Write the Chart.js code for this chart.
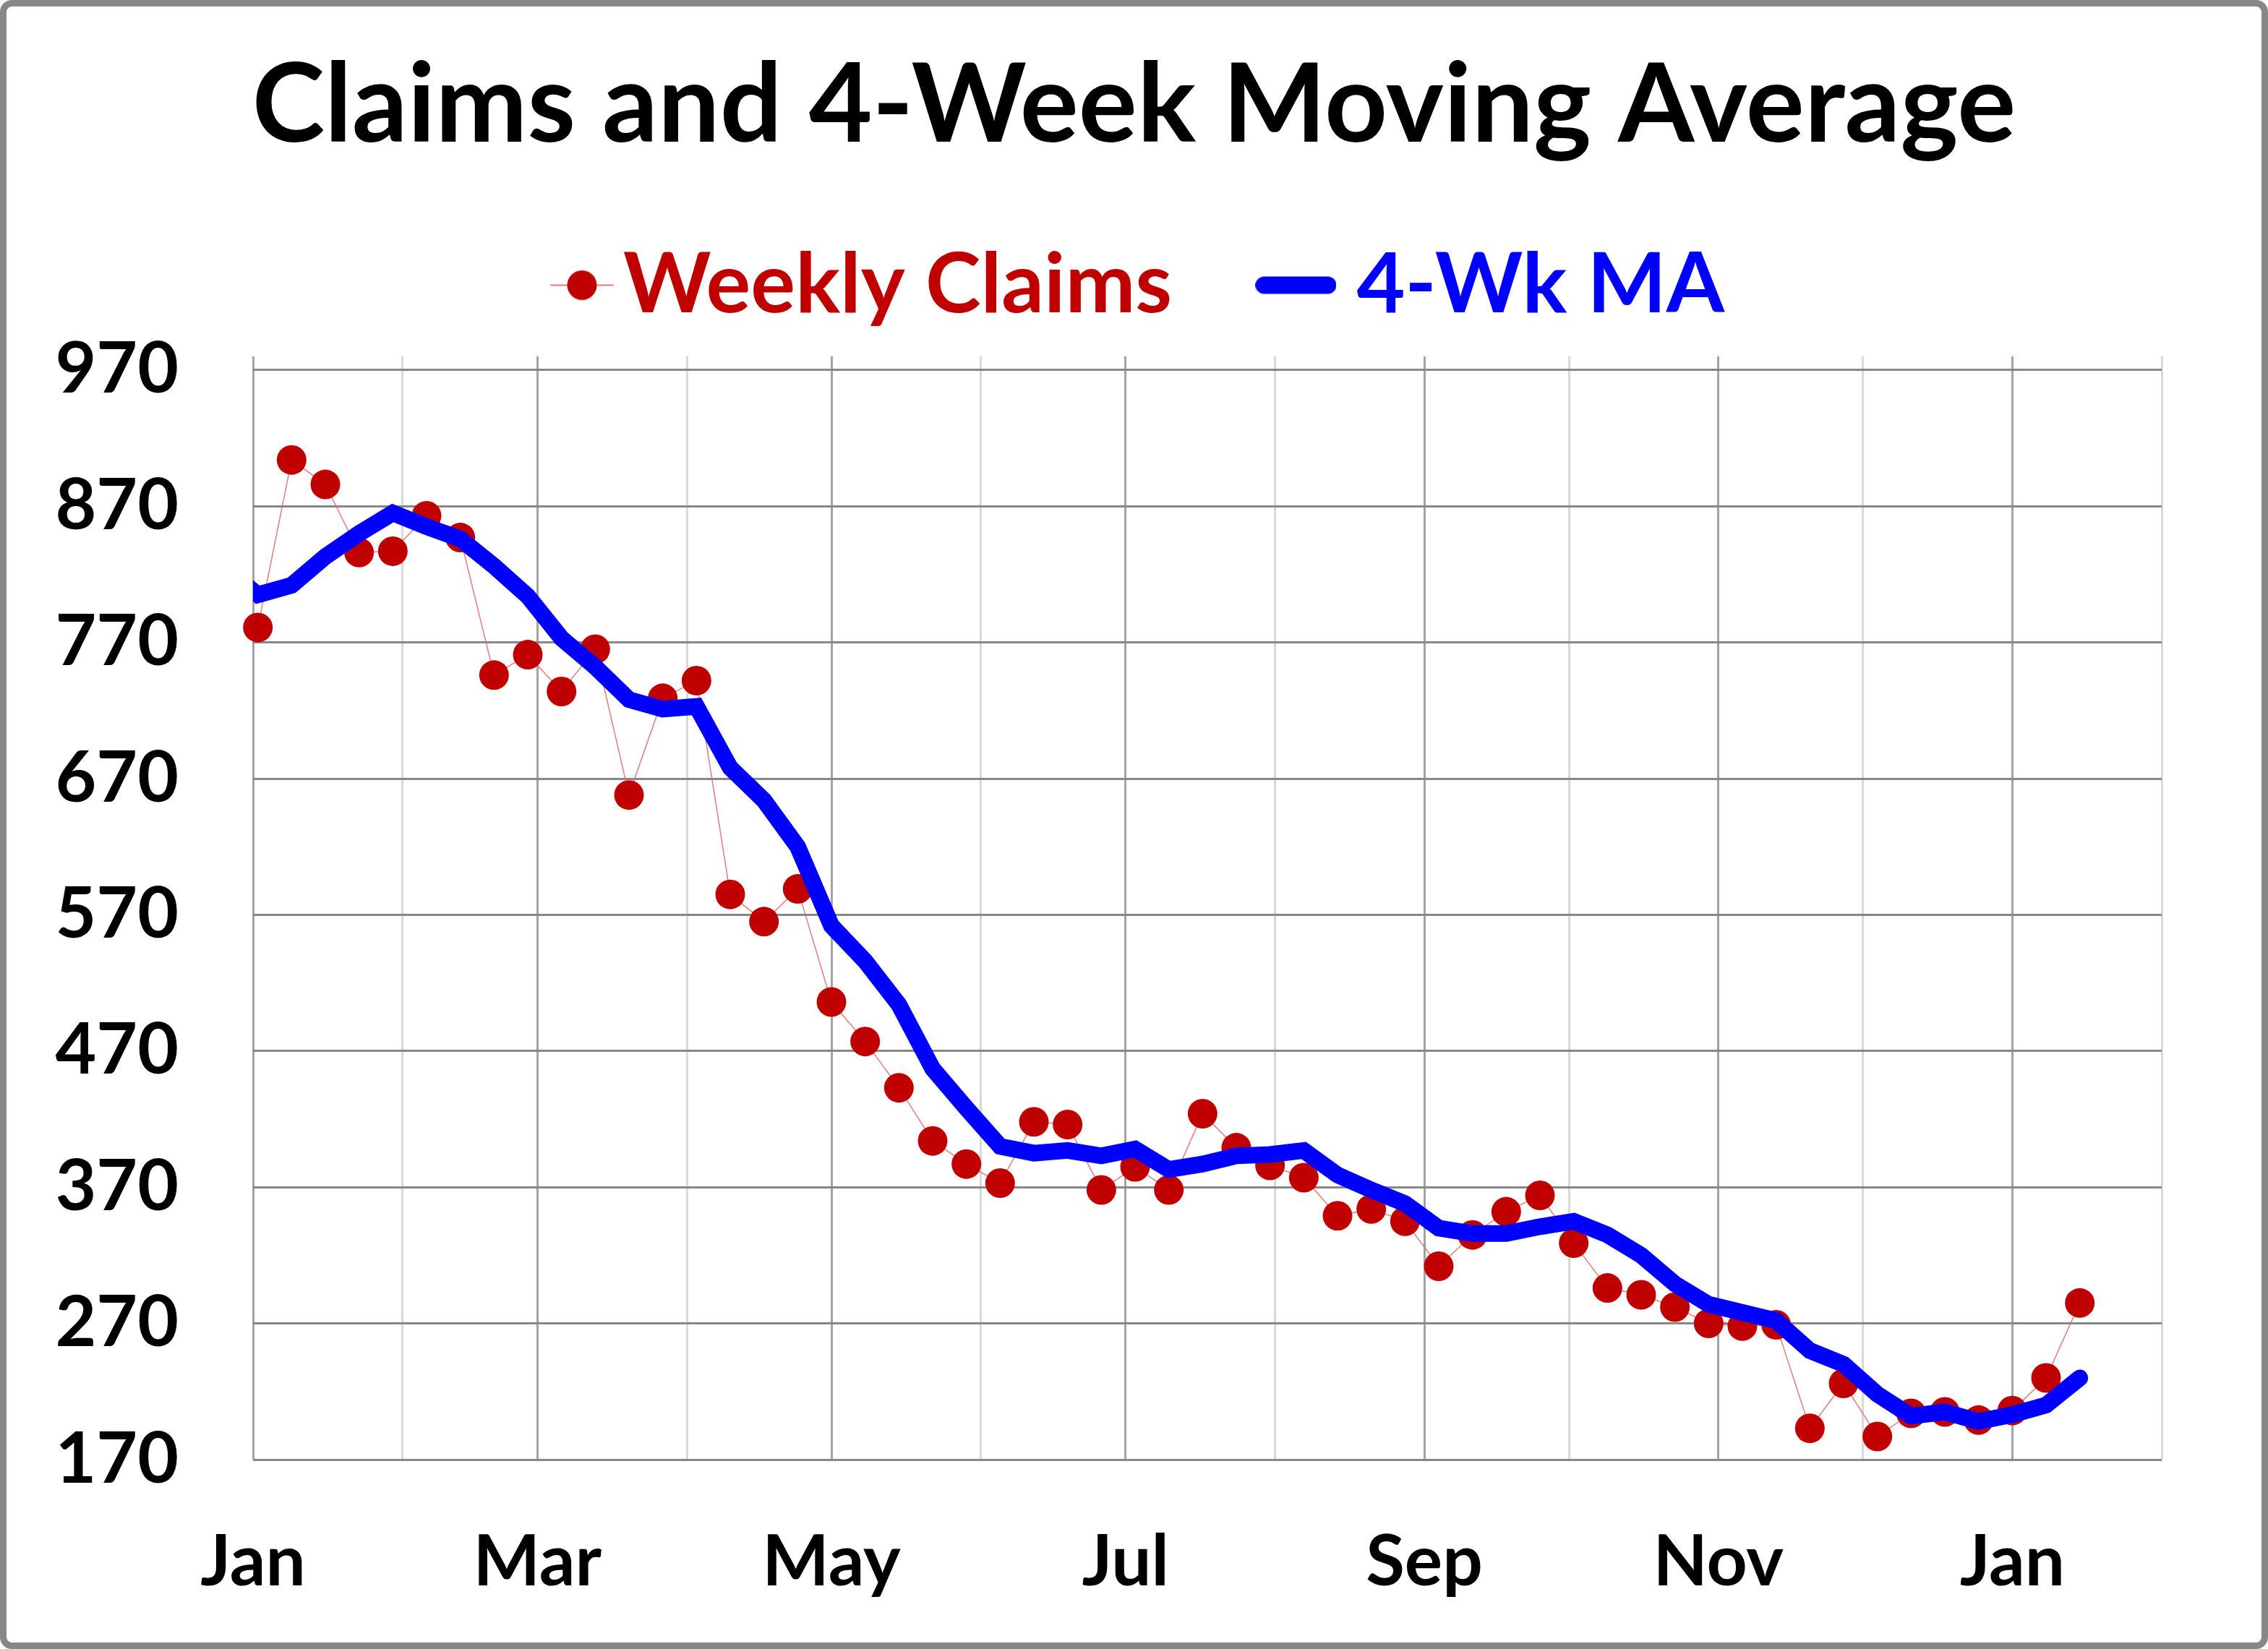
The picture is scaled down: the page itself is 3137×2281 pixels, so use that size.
<!DOCTYPE html>
<html>
<head>
<meta charset="utf-8">
<script src="https://cdn.jsdelivr.net/npm/chart.js@4.4.1/dist/chart.umd.min.js"></script>
<style>
html,body{margin:0;padding:0;background:#fff;overflow:hidden}
canvas{display:block}
</style>
</head>
<body>
<canvas id="c" width="3137" height="2281" style="width:3137px;height:2281px"></canvas>
<script>
// ---------------- DATA ----------------
const chartTitle = 'Claims and 4-Week Moving Average';
const seriesNames = ['Weekly Claims', '4-Wk MA'];

const weekEnding = [
  '2021-01-02','2021-01-09','2021-01-16','2021-01-23','2021-01-30',
  '2021-02-06','2021-02-13','2021-02-20','2021-02-27',
  '2021-03-06','2021-03-13','2021-03-20','2021-03-27',
  '2021-04-03','2021-04-10','2021-04-17','2021-04-24',
  '2021-05-01','2021-05-08','2021-05-15','2021-05-22','2021-05-29',
  '2021-06-05','2021-06-12','2021-06-19','2021-06-26',
  '2021-07-03','2021-07-10','2021-07-17','2021-07-24','2021-07-31',
  '2021-08-07','2021-08-14','2021-08-21','2021-08-28',
  '2021-09-04','2021-09-11','2021-09-18','2021-09-25',
  '2021-10-02','2021-10-09','2021-10-16','2021-10-23','2021-10-30',
  '2021-11-06','2021-11-13','2021-11-20','2021-11-27',
  '2021-12-04','2021-12-11','2021-12-18','2021-12-25',
  '2022-01-01','2022-01-08','2022-01-15'
];

const weeklyClaims = [
  781, 904, 886, 836, 837, 863, 847, 746, 761, 734,
  765, 658, 729, 742, 585, 565, 589, 506, 477, 443,
  404, 387, 373, 418, 416, 368, 385, 368, 424, 399,
  386, 377, 349, 354, 345, 312, 335, 352, 364, 329,
  296, 291, 282, 270, 268, 269, 193, 226, 187, 204,
  205, 199, 206, 230, 285
];

// the moving average line also has the prior week (cut off at the left edge)
const maWeekEnding = ['2020-12-26'].concat(weekEnding);
const movingAverage = [
  825,
  805, 812, 833, 850, 865, 855, 846, 826, 804, 773,
  752, 728, 721, 723, 678, 654, 620, 562, 536, 504,
  457, 428, 400, 395, 397, 393, 398, 383, 387, 393,
  394, 397, 379, 368, 358, 340, 336, 336, 341, 345,
  335, 320, 299, 284, 278, 272, 250, 240, 218, 202,
  205, 198, 203, 210, 230
];

const monthStarts = [
  '2021-01-01','2021-02-01','2021-03-01','2021-04-01','2021-05-01','2021-06-01',
  '2021-07-01','2021-08-01','2021-09-01','2021-10-01','2021-11-01','2021-12-01',
  '2022-01-01','2022-02-01'
];
const monthLabels = ['Jan','','Mar','','May','','Jul','','Sep','','Nov','','Jan',''];

const yTicks = [170, 270, 370, 470, 570, 670, 770, 870, 970];
const yMin = 170, yMax = 980;

// ---------------- HELPERS ----------------
const origin = Date.parse('2021-01-01T00:00:00Z');
const dayOf = d => (Date.parse(d + 'T00:00:00Z') - origin) / 864e5;
const monthDays = monthStarts.map(dayOf);

const FONT = 'Lato';
const mctx = document.createElement('canvas').getContext('2d');
function widthAt(text, size) { mctx.font = 'bold ' + size + 'px ' + FONT; return mctx.measureText(text).width; }

// Canvas geometry (px)
const W_CANVAS = 3137, H_CANVAS = 2281;
const plotLeft = 350, plotRight = 2990, plotTop = 493, plotBottom = 2019;
const CAP = 0.03; // cap centre sits this fraction of the size above the 'middle' baseline

// Font sizes fitted to the reference text widths
const T = 100 * 2440 / widthAt(chartTitle, 100);
const F = 100 * 1268 / (widthAt(seriesNames[0], 100) + widthAt(seriesNames[1], 100));
const TICK = 98;

// Legend geometry
const boxW = Math.max(4, 168 - F);           // blue marker centre -> text = 84
const w1 = widthAt(seriesNames[0], F);
const legendPad = (1803.5 - boxW / 2) - (873 + w1);
const legendTop = (391 + CAP * F) - F / 2 - legendPad;
const titleMid = 142.5 + CAP * T;
const titleLH = Math.max(0.05, 2 * (legendTop - titleMid) / T);
const titlePadTop = titleMid - titleLH * T / 2;
const legendBottom = legendTop + F + legendPad + 10;
const spacer = Math.max(1, plotTop - legendBottom);

// Legend marker images
function redMarker() {
  // visible marker is shifted 27px right of the image centre (closer to its text)
  const c = document.createElement('canvas');
  c.width = 142; c.height = 44;
  const g = c.getContext('2d');
  g.strokeStyle = 'rgba(220,90,90,0.8)'; g.lineWidth = 2;
  g.beginPath(); g.moveTo(54, 22); g.lineTo(142, 22); g.stroke();
  g.fillStyle = '#C00000';
  g.beginPath(); g.arc(98, 22, 20.5, 0, Math.PI * 2); g.fill();
  return c;
}
function blueMarker() {
  const c = document.createElement('canvas');
  c.width = 112; c.height = 26;
  const g = c.getContext('2d');
  g.strokeStyle = '#0000FF'; g.lineWidth = 24; g.lineCap = 'round';
  g.beginPath(); g.moveTo(12, 13); g.lineTo(100, 13); g.stroke();
  return c;
}
const markers = [redMarker(), blueMarker()];
const legendColors = ['#C00000', '#0000FF'];

const frame = {
  id: 'frame',
  beforeDraw(chart) {
    const ctx = chart.ctx;
    ctx.save(); ctx.fillStyle = '#fff'; ctx.fillRect(0, 0, chart.width, chart.height); ctx.restore();
  },
  afterDraw(chart) {
    const ctx = chart.ctx;
    ctx.save();
    ctx.strokeStyle = '#878787'; ctx.lineWidth = 9;
    ctx.beginPath();
    if (ctx.roundRect) ctx.roundRect(4.5, 4.5, chart.width - 9, chart.height - 9, 12);
    else ctx.rect(4.5, 4.5, chart.width - 9, chart.height - 9);
    ctx.stroke();
    ctx.restore();
  }
};

new Chart(document.getElementById('c'), {
  type: 'line',
  data: {
    datasets: [
      {
        label: seriesNames[0],
        data: weekEnding.map((d, i) => ({ x: dayOf(d), y: weeklyClaims[i] })),
        borderColor: 'rgba(222,100,100,0.8)',
        borderWidth: 1.6,
        pointRadius: 20.5,
        pointHoverRadius: 20.5,
        pointBackgroundColor: '#C00000',
        pointBorderWidth: 0,
        pointHoverBorderWidth: 0,
        tension: 0,
        clip: false,
        order: 1
      },
      {
        label: seriesNames[1],
        data: maWeekEnding.map((d, i) => ({ x: dayOf(d), y: movingAverage[i] })),
        borderColor: '#0000FF',
        borderWidth: 23,
        borderCapStyle: 'round',
        borderJoinStyle: 'miter',
        pointRadius: 0,
        pointHoverRadius: 0,
        tension: 0,
        clip: 0,
        order: 0
      }
    ]
  },
  options: {
    responsive: false,
    devicePixelRatio: 1,
    animation: false,
    events: [],
    layout: { padding: 0 },
    plugins: {
      tooltip: { enabled: false },
      title: {
        display: true,
        text: chartTitle,
        color: '#000',
        font: { family: FONT, weight: 'bold', size: T, lineHeight: titleLH },
        padding: { top: titlePadTop, bottom: 0 }
      },
      subtitle: {
        display: true,
        text: ' ',
        weight: 500,
        font: { size: 1, lineHeight: 1 },
        padding: { top: spacer - 1, bottom: 0 }
      },
      legend: {
        display: true,
        position: 'top',
        align: 'center',
        labels: {
          usePointStyle: true,
          pointStyleWidth: boxW,
          boxHeight: 10,
          padding: legendPad,
          font: { family: FONT, weight: 'bold', size: F },
          generateLabels: () => seriesNames.map((name, i) => ({
            text: name,
            fontColor: legendColors[i],
            fillStyle: legendColors[i],
            strokeStyle: legendColors[i],
            lineWidth: 0,
            pointStyle: markers[i],
            hidden: false,
            datasetIndex: i
          }))
        }
      }
    },
    scales: {
      x: {
        type: 'linear',
        min: monthDays[0],
        max: monthDays[monthDays.length - 1],
        afterBuildTicks: s => { s.ticks = monthDays.map(v => ({ value: v })); },
        afterFit: s => { s.height = H_CANVAS - plotBottom; s.paddingLeft = 0; s.paddingRight = W_CANVAS - plotRight; },
        ticks: {
          autoSkip: false, maxRotation: 0, minRotation: 0,
          padding: 2158 + CAP * TICK - 0.6 * TICK - plotBottom,
          color: '#000',
          font: { family: FONT, weight: 'bold', size: TICK },
          callback: (v, i) => monthLabels[i]
        },
        grid: {
          drawTicks: false,
          lineWidth: 3,
          color: c => (monthLabels[c.index] ? '#a3a3a3' : '#d9d9d9')
        },
        border: { display: false }
      },
      y: {
        type: 'linear',
        min: yMin,
        max: yMax,
        afterBuildTicks: s => { s.ticks = yTicks.map(v => ({ value: v })); },
        afterFit: s => { s.width = plotLeft; s.paddingTop = 0; s.paddingBottom = 0; },
        ticks: {
          padding: 103,
          color: '#000',
          font: { family: FONT, weight: 'bold', size: TICK },
          callback: v => String(v)
        },
        grid: { drawTicks: false, lineWidth: 3, color: '#888888' },
        border: { display: false }
      }
    }
  },
  plugins: [frame]
});
</script>
</body>
</html>
